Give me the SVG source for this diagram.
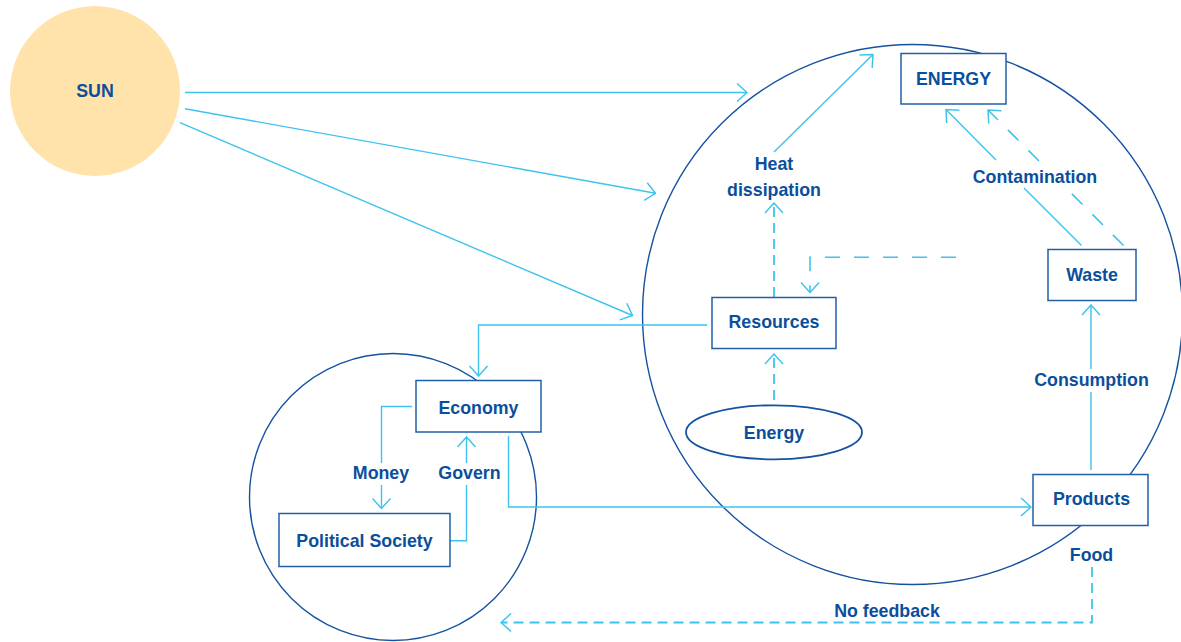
<svg xmlns="http://www.w3.org/2000/svg" width="1181" height="642" viewBox="0 0 1181 642">
<defs>
<style>
.t{font-family:"Liberation Sans",Arial,sans-serif;font-weight:bold;font-size:17.8px;fill:#0B4F9C;text-anchor:middle}
.box{fill:#fff;stroke:#2060A8;stroke-width:1.5}
.ring{fill:none;stroke:#1553A0;stroke-width:1.4}
.c{fill:none;stroke:#3EC3EE;stroke-width:1.4;marker-end:url(#ah)}
.ds{stroke-dasharray:10 6;stroke-width:1.8}
.dl{stroke-dasharray:15 14;stroke-width:1.6}
</style>
<marker id="ah" markerUnits="userSpaceOnUse" viewBox="0 0 12 20" refX="11" refY="10" markerWidth="12" markerHeight="20" orient="auto">
<path d="M1,1 L11,10 L1,19" fill="none" stroke="#3EC3EE" stroke-width="1.5" stroke-dasharray="none"/>
</marker>
</defs>
<rect width="1181" height="642" fill="#fff"/>
<g id="sun"><circle cx="95" cy="91" r="85" fill="#FFE3AB"/><text class="t" x="95" y="96.5">SUN</text></g>
<g id="ring-nature"><circle class="ring" cx="912.5" cy="314.5" r="270"/></g>
<g id="ring-society"><circle class="ring" cx="393" cy="497" r="143.5"/></g>
<g id="connectors">
<path class="c" d="M185,92.5 L747,92.5"/>
<path class="c" d="M185,108.7 L655.5,193.3"/>
<path class="c" d="M180,122.7 L632.5,315.5"/>
<path class="c" d="M774,152 L873,54.5"/>
<path class="c ds" d="M774,297 L774,203"/>
<path class="c dl" d="M956,257.3 L810,257.3 L810,292.5"/>
<path class="c" d="M1081.5,245.5 L1024,188 M996,160 L946,109.5"/>
<path class="c dl" d="M1123.5,245.5 L1066.5,188.5 M1039,161 L988,110"/>
<path class="c" d="M1091,470 L1091,392 M1091,369 L1091,305"/>
<path class="c" d="M508.5,436 L508.5,507 L1031,507"/>
<path class="c" d="M707,325 L478.5,325 L478.5,376"/>
<path class="c ds" d="M774,400 L774,354"/>
<path class="c" d="M412,406.5 L381.5,406.5 L381.5,463 M381.5,485 L381.5,508.5"/>
<path class="c" d="M450,540.7 L466.5,540.7 L466.5,485 M466.5,463 L466.5,437"/>
<path class="c ds" d="M1092,567 L1092,622.5 L501,622.5"/>
</g>
<g id="energy-top"><rect class="box" x="901" y="53.5" width="105" height="50.5"/><text class="t" x="953.5" y="84.5">ENERGY</text></g>
<g id="waste"><rect class="box" x="1048" y="249.5" width="88" height="51"/><text class="t" x="1092" y="280.5">Waste</text></g>
<g id="resources"><rect class="box" x="712" y="297.5" width="124" height="51"/><text class="t" x="774" y="328">Resources</text></g>
<g id="energy-source"><ellipse cx="774" cy="432.3" rx="88" ry="27" fill="#fff" stroke="#1553A0" stroke-width="1.8"/><text class="t" x="774" y="438.5">Energy</text></g>
<g id="products"><rect class="box" x="1033" y="474.5" width="115" height="51"/><text class="t" x="1091.5" y="505">Products</text></g>
<g id="economy"><rect class="box" x="416" y="380.5" width="125" height="51.5"/><text class="t" x="478.5" y="413.5">Economy</text></g>
<g id="political-society"><rect class="box" x="279" y="513.5" width="171" height="53"/><text class="t" x="364.5" y="546.5">Political Society</text></g>
<g id="labels">
<text class="t" x="774" y="169.5">Heat</text>
<text class="t" x="774" y="195.5">dissipation</text>
<text class="t" x="1035" y="182.5">Contamination</text>
<text class="t" x="1091.5" y="385.5">Consumption</text>
<text class="t" x="381" y="479">Money</text>
<text class="t" x="469.5" y="479">Govern</text>
<text class="t" x="1091.5" y="560.5">Food</text>
<text class="t" x="887" y="617">No feedback</text>
</g>
</svg>
